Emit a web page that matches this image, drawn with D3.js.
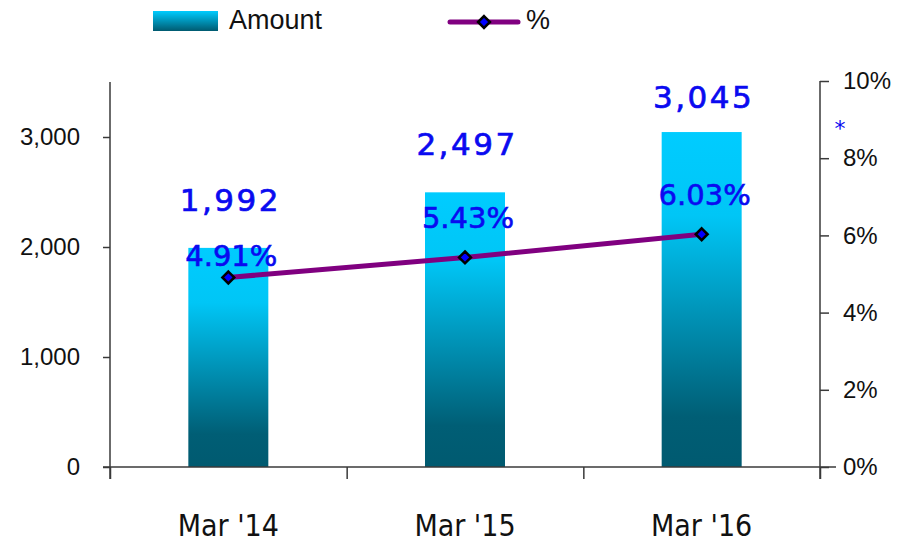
<!DOCTYPE html>
<html>
<head>
<meta charset="utf-8">
<script src="https://cdn.jsdelivr.net/npm/d3@7"></script>
<style>
  body { margin: 0; background: #fff; }
  text { font-family: "Liberation Sans", Arial, sans-serif; }
</style>
</head>
<body>
<div id="container"></div>
<script>
// data
let categories = ["Mar '14", "Mar '15", "Mar '16"];
let amounts = [1992, 2497, 3045];
let percents = [4.91, 5.43, 6.03];
let amountTicks = [0, 1000, 2000, 3000];
let percentTicks = [0, 2, 4, 6, 8, 10];

let width = 900, height = 545;
let plot = {left: 110, right: 820, top: 82, bottom: 467};

let svg = d3.select('#container').append("svg")
    .attr("width", width)
    .attr("height", height);

// bar gradient (cyan at top to dark teal at bottom)
let defs = svg.append("defs");
let grad = defs.append("linearGradient")
    .attr("id", "barGrad")
    .attr("x1", 0).attr("y1", 0).attr("x2", 0).attr("y2", 1);
grad.append("stop").attr("offset", "0%").attr("stop-color", "#00CCFF");
grad.append("stop").attr("offset", "25%").attr("stop-color", "#00C6F6");
grad.append("stop").attr("offset", "85%").attr("stop-color", "#005E75");
grad.append("stop").attr("offset", "100%").attr("stop-color", "#005A70");

let legGrad = defs.append("linearGradient")
    .attr("id", "legGrad")
    .attr("x1", 0).attr("y1", 0).attr("x2", 0).attr("y2", 1);
legGrad.append("stop").attr("offset", "0%").attr("stop-color", "#00CCFF");
legGrad.append("stop").attr("offset", "100%").attr("stop-color", "#005A70");

let xScale = d3.scaleBand()
    .domain(categories)
    .range([plot.left, plot.right])
    .paddingInner(0.662)
    .paddingOuter(0.331);

let bounds = d3.scaleLinear()
    .domain([0, categories.length])
    .range([plot.left, plot.right]);

let yScale = d3.scaleLinear()
    .domain([0, 3500])
    .range([plot.bottom, plot.top]);

let y2Scale = d3.scaleLinear()
    .domain([0, 10])
    .range([plot.bottom, plot.top - 1]);

let axisColor = "#3a3a3a";

// bars
let cx = function(i) { return xScale(categories[i]) + xScale.bandwidth() / 2; };

svg.selectAll(".bar").data(amounts)
    .enter().append("rect")
      .attr("class", "bar")
      .attr("x", function(d, i) { return xScale(categories[i]); })
      .attr("width", xScale.bandwidth())
      .attr("y", function(d) { return yScale(d); })
      .attr("height", function(d) { return plot.bottom - yScale(d); })
      .attr("fill", "url(#barGrad)");

// axes
let leftAxis = svg.append("g")
    .attr("transform", "translate(" + plot.left + ",0)")
    .call(d3.axisLeft(yScale).tickValues(amountTicks).tickSize(7).tickPadding(23)
      .tickSizeOuter(0).tickFormat(d3.format(",")));
leftAxis.select(".domain").remove();
leftAxis.selectAll("text").attr("font-size", 24).attr("fill", "#111")
    .style("font-family", "'Liberation Sans', Arial, sans-serif");

let rightAxis = svg.append("g")
    .attr("transform", "translate(" + plot.right + ",0)")
    .call(d3.axisRight(y2Scale).tickValues(percentTicks).tickSize(9).tickPadding(14)
      .tickSizeOuter(0).tickFormat(function(d) { return d + "%"; }));
rightAxis.select(".domain").remove();
rightAxis.selectAll("text").attr("font-size", 24).attr("fill", "#111")
    .style("font-family", "'Liberation Sans', Arial, sans-serif");

// category boundary ticks
let boundAxis = svg.append("g")
    .attr("transform", "translate(0," + plot.bottom + ")")
    .call(d3.axisBottom(bounds).tickValues(d3.range(categories.length + 1))
      .tickSize(12).tickSizeOuter(0).tickFormat(""));
boundAxis.select(".domain").remove();

let catAxis = svg.append("g")
    .attr("transform", "translate(0," + plot.bottom + ")")
    .call(d3.axisBottom(xScale).tickSize(0).tickPadding(48));
catAxis.select(".domain").remove();
catAxis.selectAll("text")
    .attr("font-size", 30)
    .attr("fill", "#111")
    .style("letter-spacing", "0px")
    .style("font-family", "'Liberation Sans Narrow', 'DejaVu Sans Condensed', 'Liberation Sans', sans-serif");

// axis lines
svg.append("line")
    .attr("x1", plot.left).attr("x2", plot.left)
    .attr("y1", plot.top).attr("y2", plot.bottom + 12);
svg.append("line")
    .attr("x1", plot.right).attr("x2", plot.right)
    .attr("y1", plot.top - 1).attr("y2", plot.bottom + 12);
svg.append("line")
    .attr("x1", plot.left - 7).attr("x2", plot.right + 16)
    .attr("y1", plot.bottom).attr("y2", plot.bottom);

svg.selectAll("line, .tick line")
    .attr("stroke", axisColor)
    .attr("stroke-width", 1.5);

// percent line
let line = d3.line()
    .x(function(d, i) { return cx(i); })
    .y(function(d) { return y2Scale(d); });

svg.append("path")
    .datum(percents)
    .attr("d", line)
    .attr("fill", "none")
    .attr("stroke", "#800080")
    .attr("stroke-width", 5);

let diamond = d3.symbol().type(d3.symbolDiamond2).size(90);

svg.selectAll(".marker").data(percents)
    .enter().append("path")
      .attr("class", "marker")
      .attr("d", diamond)
      .attr("transform", function(d, i) { return "translate(" + cx(i) + "," + y2Scale(d) + ")"; })
      .attr("fill", "#0000FF")
      .attr("stroke", "#000")
      .attr("stroke-width", 2.5);

// data labels
let amountLabelY = function(d) { return Math.max(yScale(d) - 37, 108); };

svg.selectAll(".amtLabel").data(amounts)
    .enter().append("text")
      .attr("class", "amtLabel")
      .attr("x", function(d, i) { return cx(i) + 2; })
      .attr("y", function(d) { return amountLabelY(d); })
      .attr("text-anchor", "middle")
      .attr("font-size", 31)
      .attr("fill", "#0A0AF0")
      .attr("stroke", "#0A0AF0")
      .attr("stroke-width", 0.7)
      .style("letter-spacing", "2.5px")
      .style("font-family", "'DejaVu Sans', Verdana, sans-serif")
      .text(function(d) { return d3.format(",")(d); });

svg.selectAll(".pctLabel").data(percents)
    .enter().append("text")
      .attr("class", "pctLabel")
      .attr("x", function(d, i) { return cx(i) + 3; })
      .attr("y", function(d, i) { return Math.max(y2Scale(d) - 29, amountLabelY(amounts[i]) + 55); })
      .attr("text-anchor", "middle")
      .attr("font-size", 29)
      .attr("fill", "#0A0AF0")
      .attr("stroke", "#0A0AF0")
      .attr("stroke-width", 0.6)
      .style("font-family", "'DejaVu Sans', Verdana, sans-serif")
      .text(function(d) { return d.toFixed(2) + "%"; });

// asterisk by the right axis
svg.append("text")
    .attr("x", 840)
    .attr("y", 136)
    .attr("text-anchor", "middle")
    .attr("font-size", 22)
    .attr("fill", "#0A0AF0")
    .style("font-family", "'DejaVu Sans', sans-serif")
    .text("*");

// legend
let legend = svg.append("g");
legend.append("rect")
    .attr("x", 153).attr("y", 11)
    .attr("width", 65).attr("height", 20)
    .attr("fill", "url(#legGrad)");
legend.append("text")
    .attr("x", 229).attr("y", 29)
    .attr("font-size", 27)
    .attr("fill", "#111")
    .text("Amount");

legend.append("line")
    .attr("x1", 450).attr("x2", 518)
    .attr("y1", 22).attr("y2", 22)
    .attr("stroke", "#800080")
    .attr("stroke-width", 5)
    .attr("stroke-linecap", "round");
legend.append("path")
    .attr("d", diamond)
    .attr("transform", "translate(484,22)")
    .attr("fill", "#0000FF")
    .attr("stroke", "#000")
    .attr("stroke-width", 2.5);
legend.append("text")
    .attr("x", 526).attr("y", 29)
    .attr("font-size", 27)
    .attr("fill", "#111")
    .text("%");
</script>
</body>
</html>
